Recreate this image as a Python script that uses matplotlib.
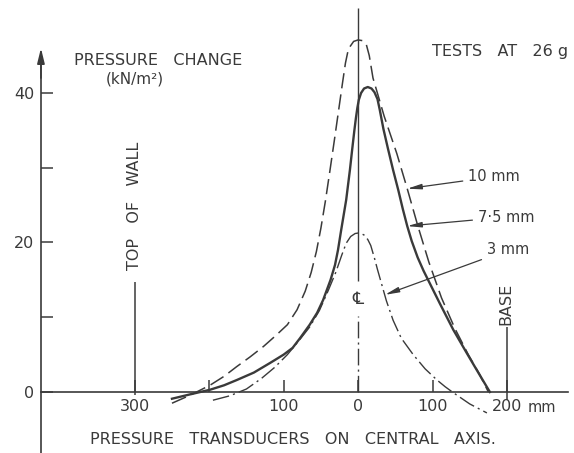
import matplotlib
matplotlib.use('Agg')
import matplotlib.pyplot as plt

# readings: x in mm from the centre line (left of it negative), y in kN/m2
x_10mm = [-250, -225, -199, -180, -163, -145, -127, -110, -95, -82, -71, -63, -56, -50, -44, -38, -32,
          -26, -21, -17, -13, -6, 0, 6, 11, 15, 20, 35, 52, 66, 80, 95, 112, 130, 148, 163, 175]
y_10mm = [-1.5, -0.4, 0.9, 2.1, 3.4, 4.7, 6.1, 7.6, 9.0, 11.0, 13.5, 16.0, 18.8, 21.9, 25.5, 29.5, 33.6,
          37.8, 41.3, 44.0, 45.9, 46.9, 47.1, 47.0, 46.5, 45.0, 42.0, 36.9, 31.9, 27.2, 22.3, 17.4, 12.6,
          8.5, 5.0, 2.4, 0.0]

x_75mm = [-250, -225, -199, -180, -163, -140, -118, -100, -88, -78, -65, -55, -47, -37, -31, -27, -23,
          -20, -16, -11, -8, -5, -3, -1, 1, 4, 8, 13, 18, 22, 26, 29, 34, 40, 47, 54, 60, 66, 72, 80,
          88, 97, 110, 128, 146, 162, 177]
y_75mm = [-0.9, -0.3, 0.3, 0.9, 1.6, 2.6, 3.9, 5.0, 5.9, 7.2, 9.0, 10.6, 12.3, 15.0, 17.0, 19.0, 21.5,
          23.3, 25.7, 29.7, 32.4, 35.0, 36.6, 38.0, 39.1, 40.0, 40.6, 40.8, 40.6, 40.1, 39.2, 37.8, 35.2,
          32.6, 29.7, 27.0, 24.5, 22.2, 20.2, 18.0, 16.2, 14.4, 11.8, 8.3, 5.2, 2.5, 0.0]

x_3mm = [-195, -172, -150, -130, -112, -95, -80, -65, -52, -40, -30, -22, -16, -10, -4, 2, 8, 13, 17,
         22, 26, 30, 38, 47, 58, 74, 90, 106, 117, 128, 150, 173]
y_3mm = [-1.1, -0.5, 0.4, 1.8, 3.3, 5.0, 6.8, 8.7, 10.9, 13.6, 16.0, 18.3, 19.9, 20.8, 21.2, 21.3, 21.0,
         20.4, 19.6, 17.9, 16.4, 15.0, 12.2, 9.6, 7.2, 5.0, 3.1, 1.6, 0.7, -0.1, -1.6, -2.8]

x_tick_pos = [-300, -200, -100, 0, 100, 200]
x_tick_lab = ['300', '', '100', '0', '100', '200']
y_tick_pos = [0, 10, 20, 30, 40]
y_tick_lab = ['0', '', '20', '', '40']

# curve labels: text, arrow tip on curve, text position
curve_labels = ['10 mm', '7·5 mm', '3 mm']
label_tip = [(66, 27.2), (66, 22.2), (36, 13.0)]
label_txt = [(148, 28.8), (161, 23.4), (173, 19.0)]

ink = '#3a3a3a'
plt.rcParams['font.family'] = 'DejaVu Sans'

fig = plt.figure(figsize=(5.74, 4.53), dpi=100)
ax = fig.add_axes([0, 0, 1, 1])
ax.set_xlim(-481, 290)
ax.set_ylim(-8.16, 52.44)

# axes drawn as spines crossing at the origin of the drawing
for s in ['top', 'right']:
    ax.spines[s].set_visible(False)
ax.spines['left'].set_position(('data', -426))
ax.spines['left'].set_bounds(-8.16, 44)
ax.spines['bottom'].set_position(('data', 0))
ax.spines['bottom'].set_bounds(-426, 282)
for s in ['left', 'bottom']:
    ax.spines[s].set_color(ink)
    ax.spines[s].set_linewidth(1.2)

ax.set_xticks(x_tick_pos, x_tick_lab)
ax.set_yticks(y_tick_pos, y_tick_lab)
ax.tick_params(axis='both', direction='in', length=8.5, width=1.1, color=ink,
               labelcolor=ink, labelsize=11.5)
ax.tick_params(axis='x', pad=5)
ax.tick_params(axis='y', pad=5)
ax.text(228, -2.1, 'mm', color=ink, fontsize=10.5, ha='left', va='center')

ax.annotate('', xy=(-426, 46.0), xytext=(-426, 42),
            arrowprops=dict(arrowstyle='-|>,head_length=0.9,head_width=0.22',
                            color=ink, lw=1.2, shrinkA=0, shrinkB=0))

# centre line
ax.vlines(0, 14.8, 51.4, color=ink, lw=1.0)
ax.plot([0, 0], [0, 10.2], color=ink, lw=1.0, dashes=(12, 3, 1.5, 3))
ax.text(0, 12.4, '℄', color=ink, fontsize=12.5, ha='center', va='center')

# top of wall / base markers
ax.vlines(-300, -0.4, 14.7, color=ink, lw=1.1)
ax.text(-300, 24.9, 'TOP   OF   WALL', rotation=90, color=ink, fontsize=11.5,
        ha='center', va='center')
ax.vlines(200, -1.1, 8.7, color=ink, lw=1.1)
ax.text(199, 11.8, 'BASE', rotation=90, color=ink, fontsize=11.5,
        ha='center', va='center')

# curves
ax.plot(x_10mm, y_10mm, color=ink, lw=1.1, dashes=(10, 4), solid_joinstyle='round')
ax.plot(x_75mm, y_75mm, color=ink, lw=1.7, solid_joinstyle='round')
ax.plot(x_3mm, y_3mm, color=ink, lw=1.0, dashes=(12, 3, 1.5, 3))

for lab, tip, pos in zip(curve_labels, label_tip, label_txt):
    ax.annotate(lab, xy=tip, xytext=pos, color=ink, fontsize=10.5,
                ha='left', va='center',
                arrowprops=dict(arrowstyle='-|>,head_length=0.8,head_width=0.15',
                                color=ink, lw=0.9, shrinkA=2, shrinkB=0))

ax.text(-382, 44.4, 'PRESSURE   CHANGE', color=ink, fontsize=11.5, ha='left', va='center')
ax.text(-339, 41.9, '(kN/m²)', color=ink, fontsize=11, ha='left', va='center')
ax.text(99, 45.5, 'TESTS   AT   26 g', color=ink, fontsize=11.5, ha='left', va='center')
ax.text(-87, -6.4, 'PRESSURE   TRANSDUCERS   ON   CENTRAL   AXIS.', color=ink,
        fontsize=11.5, ha='center', va='center')

fig.savefig('out.png', dpi=100, facecolor='white')
